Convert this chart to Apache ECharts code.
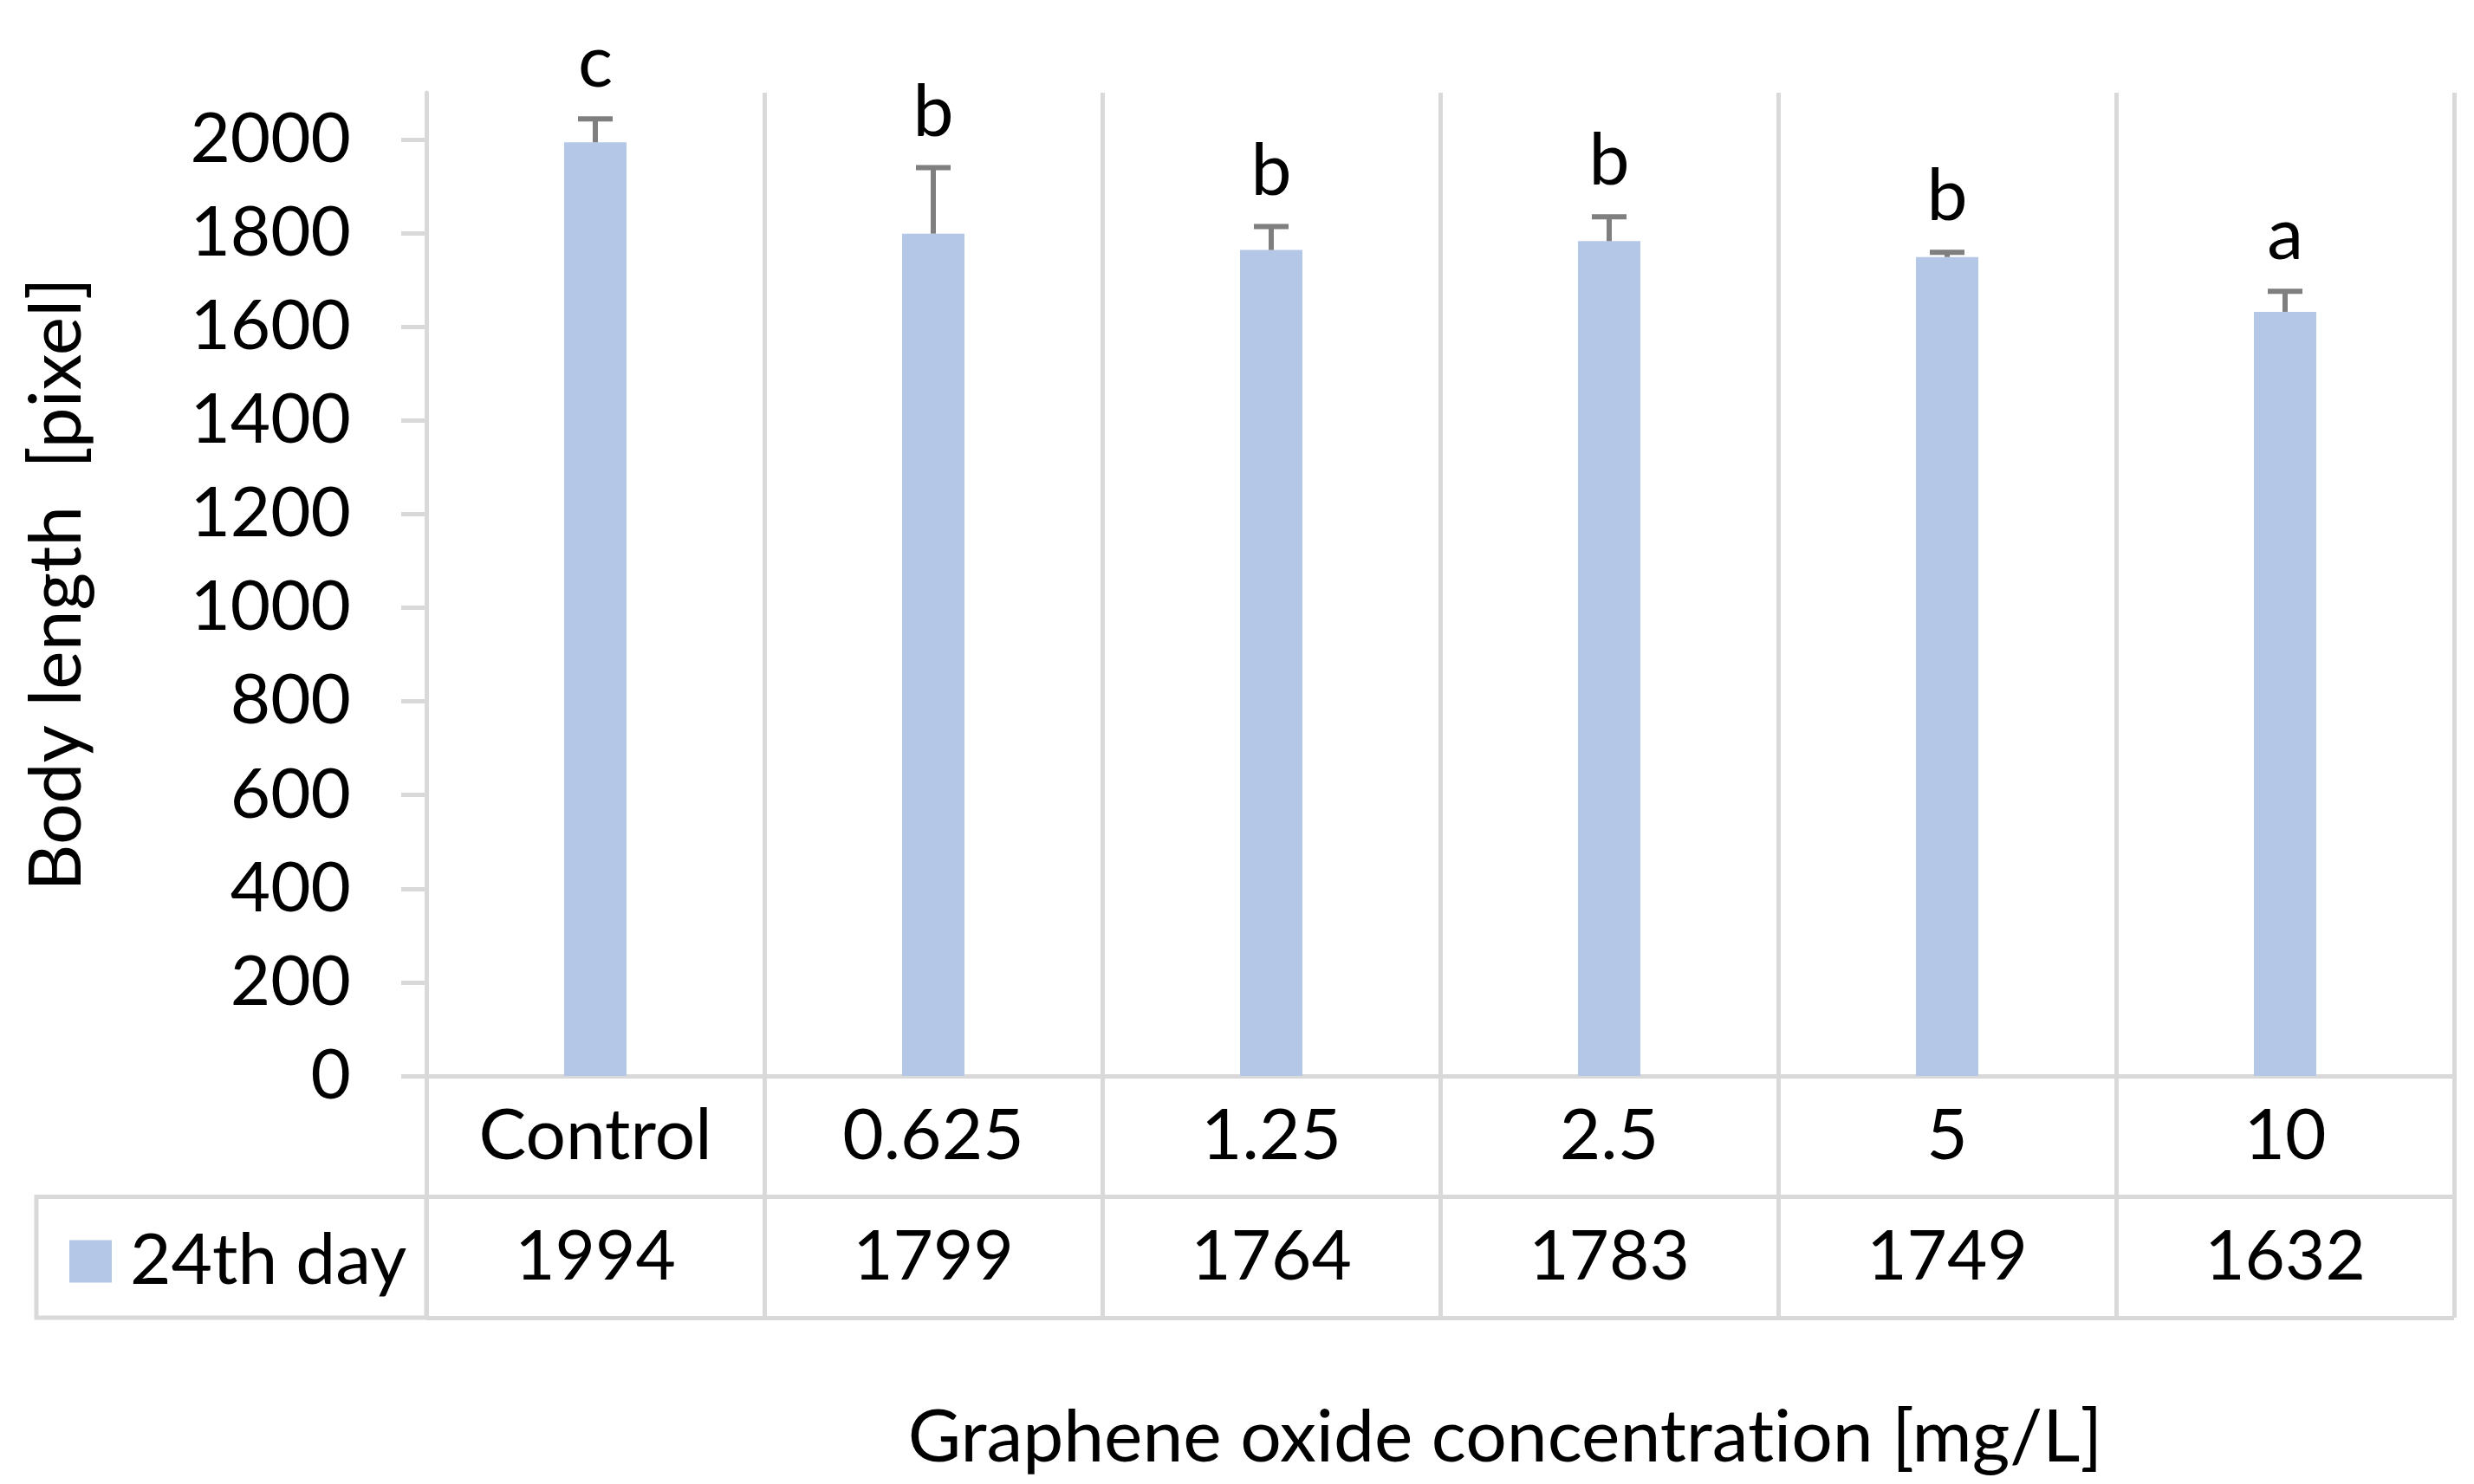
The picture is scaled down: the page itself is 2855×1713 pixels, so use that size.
<!DOCTYPE html>
<html>
<head>
<meta charset="utf-8">
<script src="https://cdn.jsdelivr.net/npm/echarts@6/dist/echarts.min.js"></script>
<style>
html,body{margin:0;padding:0;background:#fff;}
#main{width:2855px;height:1713px;}
</style>
</head>
<body>
<div id="main"></div>
<script>
// ---- data ----
const categories = ['Control', '0.625', '1.25', '2.5', '5', '10'];
const seriesName = '24th day';
const means = [1994, 1799, 1764, 1783, 1749, 1632];
const errors = [50, 141, 50, 52, 10, 44];
const letters = ['c', 'b', 'b', 'b', 'b', 'a'];
const yTicks = [0, 200, 400, 600, 800, 1000, 1200, 1400, 1600, 1800, 2000];
const yMax = 2100;
const yTitle = 'Body length  [pixel]';
const xTitle = 'Graphene oxide concentration [mg/L]';

// ---- layout ----
const FONT = 'Lato';
const FS = 80;
const FS_TITLE = 84;
const GRAY = '#d9d9d9';
const LW = 5;
const plotLeft = 492, plotRight = 2832, plotTop = 107, plotBottom = 1242, tableBottom = 1521;
const legendCellLeft = 42;

// break the Lato "ti" ligature without changing visible text
const noLig = s => s.replace(/ti/g, 't\u200Ci');

const chart = echarts.init(document.getElementById('main'));

const rowData = [];
for (let i = 0; i < categories.length; i++) {
  rowData.push([i, 1, categories[i], 82]);
  rowData.push([i, 0, String(means[i]), FS]);
}

const option = {
  animation: false,
  backgroundColor: '#fff',
  textStyle: { fontFamily: FONT },
  legend: {
    data: [seriesName],
    left: 75, top: 1410,
    icon: 'rect', itemWidth: 49, itemHeight: 49,
    selectedMode: false,
    textStyle: { fontSize: 82, fontFamily: FONT, color: '#000', padding: [0, 0, 0, 16] }
  },
  grid: [
    { left: plotLeft, right: 2855 - plotRight, top: plotTop, bottom: 1713 - plotBottom, containLabel: false },
    { left: plotLeft, right: 2855 - plotRight, top: plotBottom, bottom: 1713 - tableBottom, containLabel: false }
  ],
  xAxis: [
    {
      type: 'category', gridIndex: 0, data: categories,
      axisLine: { show: true, lineStyle: { color: GRAY, width: LW } },
      axisTick: { show: false }, axisLabel: { show: false },
      splitLine: { show: true, interval: 0, lineStyle: { color: GRAY, width: LW } }
    },
    {
      type: 'category', gridIndex: 1, data: categories,
      axisLine: { show: false }, axisTick: { show: false }, axisLabel: { show: false },
      splitLine: { show: true, interval: 0, lineStyle: { color: GRAY, width: LW } }
    }
  ],
  yAxis: [
    {
      type: 'value', gridIndex: 0, min: 0, max: yMax,
      name: yTitle, nameLocation: 'middle', nameGap: 384,
      nameTextStyle: { fontSize: FS_TITLE, fontFamily: FONT, color: '#000' },
      axisLine: { show: true, lineStyle: { color: GRAY, width: LW } },
      axisTick: { show: true, length: 29, customValues: yTicks, lineStyle: { color: GRAY, width: LW } },
      axisLabel: { customValues: yTicks, fontSize: FS, fontFamily: FONT, color: '#000', margin: 87,
        formatter: v => String(v) },
      splitLine: { show: false }
    },
    {
      type: 'category', gridIndex: 1, data: ['value', 'label'],
      axisLine: { show: false }, axisTick: { show: false }, axisLabel: { show: false },
      splitLine: { show: true, interval: 0, lineStyle: { color: GRAY, width: LW } }
    }
  ],
  series: [
    {
      name: seriesName, type: 'bar', xAxisIndex: 0, yAxisIndex: 0,
      data: means, barWidth: 72,
      itemStyle: { color: '#b4c7e7' }, z: 2
    },
    {
      name: 'err', type: 'custom', xAxisIndex: 0, yAxisIndex: 0, z: 5,
      data: means.map((m, i) => [i, m, errors[i]]),
      renderItem: function (params, api) {
        const i = api.value(0), m = api.value(1), e = api.value(2);
        const p0 = api.coord([i, m]);
        const p1 = api.coord([i, m + e]);
        const hw = 20;
        const st = { stroke: '#7f7f7f', lineWidth: 6 };
        return {
          type: 'group',
          children: [
            { type: 'line', shape: { x1: p0[0], y1: p0[1], x2: p1[0], y2: p1[1] }, style: st },
            { type: 'line', shape: { x1: p1[0] - hw, y1: p1[1], x2: p1[0] + hw, y2: p1[1] }, style: st },
            { type: 'text', style: { text: letters[i], x: p1[0], y: p1[1] - 22, textAlign: 'center', textVerticalAlign: 'bottom',
              font: '84px ' + FONT, fill: '#000' } }
          ]
        };
      }
    },
    {
      name: 'table', type: 'custom', xAxisIndex: 1, yAxisIndex: 1, z: 5,
      data: rowData,
      renderItem: function (params, api) {
        const p = api.coord([api.value(0), api.value(1)]);
        const item = rowData[params.dataIndex];
        return { type: 'text', style: { text: item[2], x: p[0], y: p[1], textAlign: 'center', textVerticalAlign: 'middle',
          font: item[3] + 'px ' + FONT, fill: '#000' } };
      }
    }
  ],
  graphic: [
    { type: 'rect', shape: { x: legendCellLeft, y: (plotBottom + tableBottom) / 2, width: plotLeft - legendCellLeft, height: tableBottom - (plotBottom + tableBottom) / 2 },
      style: { fill: 'none', stroke: GRAY, lineWidth: LW }, z: 1 },
    { type: 'text', x: 1737, y: 1660, style: { text: noLig(xTitle), textAlign: 'center', textVerticalAlign: 'middle', font: FS_TITLE + 'px ' + FONT, fill: '#000' } }
  ]
};
chart.setOption(option);
</script>
</body>
</html>
